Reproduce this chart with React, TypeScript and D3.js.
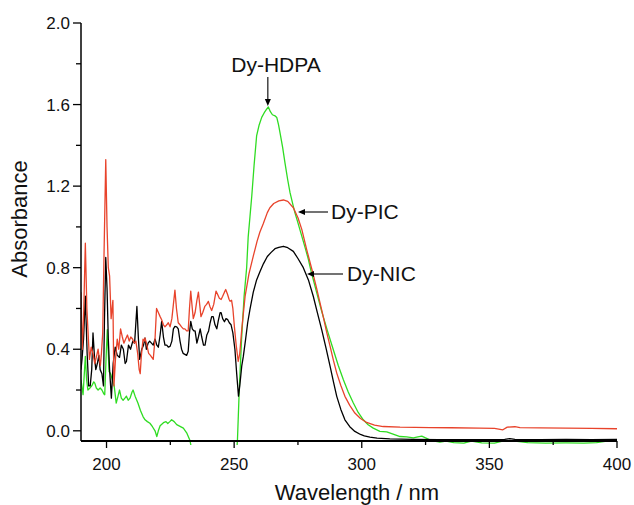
import React from "react";
import * as d3 from "d3";

// ---- Data ----
const xTicksMajor = [200, 250, 300, 350, 400];
const xTicksMinor = [225, 275, 325, 375];
const yTicksMajor = [0.0, 0.4, 0.8, 1.2, 1.6, 2.0];
const yTicksMinor = [0.2, 0.6, 1.0, 1.4, 1.8];

// Dy-NIC (black)
const nicData: [number, number][] = [
  [190.0, 0.3], [190.4, 0.35], [191.0, 0.45], [191.7, 0.66], [192.4, 0.38], [193.0, 0.22], [193.6, 0.22],
  [194.2, 0.3], [194.7, 0.48], [195.3, 0.36], [195.8, 0.3], [196.4, 0.33], [197.0, 0.37], [197.5, 0.3],
  [198.2, 0.28], [198.8, 0.22], [199.2, 0.55], [199.7, 0.85], [200.2, 0.7], [200.7, 0.45], [201.2, 0.3],
  [201.9, 0.16], [202.6, 0.33], [203.4, 0.41], [204.2, 0.37], [205.1, 0.36], [205.8, 0.42], [206.6, 0.4],
  [207.3, 0.33], [207.8, 0.34], [208.6, 0.42], [209.4, 0.4], [210.3, 0.44], [211.0, 0.43], [211.9, 0.61],
  [212.5, 0.45], [213.0, 0.35], [213.8, 0.4], [214.5, 0.42], [215.1, 0.455], [215.6, 0.4], [216.3, 0.43],
  [216.9, 0.44], [217.6, 0.43], [218.3, 0.42], [219.0, 0.45], [219.7, 0.42], [220.3, 0.41], [221.0, 0.47],
  [221.6, 0.537], [222.3, 0.46], [222.9, 0.42], [223.6, 0.42], [224.2, 0.41], [224.9, 0.414], [225.6, 0.44],
  [226.2, 0.5], [226.8, 0.512], [227.5, 0.51], [228.1, 0.5], [228.8, 0.44], [229.4, 0.4], [230.0, 0.38],
  [230.7, 0.375], [231.4, 0.37], [232.0, 0.39], [232.5, 0.48], [233.0, 0.537], [233.6, 0.5], [234.2, 0.49],
  [234.7, 0.49], [235.4, 0.43], [236.0, 0.46], [236.7, 0.5], [237.3, 0.46], [238.0, 0.42], [238.6, 0.42],
  [239.3, 0.47], [240.0, 0.49], [240.6, 0.53], [241.2, 0.56], [241.8, 0.56], [242.5, 0.52], [243.2, 0.5],
  [243.8, 0.54], [244.5, 0.58], [244.9, 0.58], [245.5, 0.55], [246.2, 0.535], [246.8, 0.55], [247.5, 0.545],
  [248.1, 0.53], [248.8, 0.52], [249.5, 0.48], [250.3, 0.4], [251.0, 0.28], [251.7, 0.17], [252.2, 0.22],
  [253.0, 0.32], [253.6, 0.365], [254.5, 0.45], [255.3, 0.53], [256.2, 0.595], [257.5, 0.68], [258.8, 0.74],
  [260.1, 0.78], [261.5, 0.82], [263.0, 0.855], [264.5, 0.875], [266.0, 0.893], [267.5, 0.9], [269.3, 0.905],
  [271.0, 0.898], [273.2, 0.88], [275.0, 0.845], [277.1, 0.8], [279.1, 0.74], [281.0, 0.66], [282.6, 0.58],
  [284.3, 0.496], [286.0, 0.405], [287.6, 0.316], [289.0, 0.235], [290.2, 0.169], [291.8, 0.105],
  [293.4, 0.054], [295.3, 0.02], [297.3, -0.003], [299.5, -0.018], [301.0, -0.025], [303.2, -0.031],
  [306.0, -0.036], [311.0, -0.04], [320.0, -0.042], [330.0, -0.043], [340.0, -0.043], [350.0, -0.043],
  [356.0, -0.042], [358.0, -0.038], [360.0, -0.042], [370.0, -0.043], [380.0, -0.042], [390.0, -0.043],
  [400.0, -0.042],
];

// Dy-PIC (red)
const picData: [number, number][] = [
  [190.0, 0.68], [190.5, 0.4], [191.0, 0.55], [191.7, 0.92], [192.3, 0.6], [192.7, 0.5], [193.3, 0.35],
  [194.0, 0.41], [194.7, 0.38], [195.4, 0.33], [196.0, 0.36], [196.7, 0.4], [197.2, 0.35], [197.6, 0.32],
  [198.0, 0.38], [198.5, 0.48], [199.0, 0.85], [199.7, 1.33], [200.2, 1.0], [200.7, 0.8], [201.2, 0.76],
  [201.8, 0.55], [202.5, 0.64], [202.9, 0.22], [203.5, 0.35], [204.2, 0.45], [204.8, 0.4], [205.5, 0.5],
  [206.2, 0.46], [206.8, 0.43], [207.5, 0.45], [208.2, 0.47], [208.9, 0.44], [209.5, 0.46], [210.2, 0.45],
  [210.8, 0.43], [211.5, 0.44], [212.2, 0.38], [212.8, 0.3], [213.2, 0.28], [213.6, 0.36], [214.3, 0.45],
  [214.8, 0.44], [215.1, 0.455], [215.8, 0.42], [216.5, 0.38], [217.2, 0.37], [218.3, 0.35], [219.0, 0.45],
  [219.6, 0.6], [220.3, 0.58], [221.0, 0.56], [221.6, 0.545], [222.3, 0.52], [222.9, 0.51], [223.6, 0.52],
  [224.2, 0.53], [224.9, 0.51], [225.6, 0.55], [226.2, 0.62], [226.8, 0.69], [227.4, 0.6], [228.1, 0.53],
  [228.8, 0.52], [229.4, 0.51], [230.1, 0.5], [230.7, 0.5], [231.4, 0.49], [232.0, 0.49], [232.5, 0.6],
  [233.0, 0.685], [233.6, 0.6], [234.0, 0.55], [234.7, 0.58], [235.4, 0.64], [236.0, 0.68], [236.5, 0.62],
  [237.0, 0.56], [237.7, 0.58], [238.5, 0.61], [239.2, 0.62], [239.9, 0.635], [240.5, 0.61], [241.2, 0.59],
  [242.0, 0.62], [242.9, 0.685], [243.5, 0.67], [244.2, 0.65], [244.9, 0.644], [245.5, 0.66], [246.2, 0.68],
  [246.7, 0.693], [247.4, 0.67], [248.0, 0.645], [248.4, 0.635], [249.0, 0.64], [249.5, 0.6], [250.1, 0.51],
  [250.8, 0.42], [251.6, 0.34], [252.2, 0.38], [253.0, 0.5], [254.3, 0.66], [255.8, 0.77], [257.5, 0.857],
  [259.0, 0.93], [260.1, 0.975], [261.4, 1.015], [263.0, 1.07], [264.0, 1.094], [265.5, 1.115],
  [267.5, 1.128], [269.3, 1.132], [271.0, 1.125], [273.2, 1.094], [275.0, 1.045], [276.5, 0.988],
  [278.4, 0.89], [279.1, 0.857], [280.7, 0.78], [282.3, 0.7], [283.6, 0.63], [284.9, 0.56], [286.2, 0.486],
  [287.6, 0.414], [288.9, 0.345], [290.2, 0.283], [291.8, 0.222], [293.4, 0.169], [295.3, 0.125],
  [297.3, 0.087], [299.5, 0.06], [301.9, 0.041], [305.0, 0.028], [308.4, 0.021], [315.0, 0.018],
  [326.7, 0.016], [335.0, 0.015], [346.0, 0.013], [352.0, 0.012], [355.3, 0.005], [357.0, 0.018],
  [360.0, 0.02], [362.0, 0.016], [370.0, 0.014], [380.0, 0.013], [390.0, 0.012], [400.0, 0.01],
];

// Dy-HDPA (green)
const hdpaData: [number, number][] = [
  [190.0, 0.25], [190.8, 0.177], [191.7, 0.365], [192.2, 0.25], [192.7, 0.2], [193.5, 0.21], [194.2, 0.22],
  [195.0, 0.24], [195.4, 0.234], [196.0, 0.21], [196.7, 0.2], [197.5, 0.21], [198.2, 0.2], [199.0, 0.18],
  [199.3, 0.177], [199.8, 0.35], [200.3, 0.496], [200.7, 0.38], [201.0, 0.29], [201.6, 0.28], [202.3, 0.25],
  [203.0, 0.22], [203.8, 0.136], [204.5, 0.17], [205.1, 0.2], [205.8, 0.16], [206.5, 0.15], [207.2, 0.16],
  [207.8, 0.17], [208.5, 0.15], [209.2, 0.16], [210.0, 0.19], [210.4, 0.2], [211.2, 0.17], [212.3, 0.136],
  [213.3, 0.1], [214.3, 0.07], [215.1, 0.054], [216.0, 0.045], [217.0, 0.037], [218.0, 0.02], [219.0, 0.0],
  [219.7, -0.028], [220.3, 0.0], [221.0, 0.025], [222.3, 0.04], [223.3, 0.045], [224.0, 0.036],
  [224.8, 0.045], [225.5, 0.054], [226.5, 0.045], [227.5, 0.03], [228.8, 0.022], [230.1, 0.013],
  [231.4, -0.01], [232.7, -0.048], [233.5, -0.1], [251.0, -0.1], [251.3, -0.045], [252.0, 0.2],
  [252.9, 0.447], [253.9, 0.66], [254.9, 0.8], [255.5, 0.95], [256.2, 1.05], [256.9, 1.15], [257.8, 1.3],
  [258.8, 1.446], [259.8, 1.5], [260.8, 1.537], [261.8, 1.56], [262.6, 1.575], [263.4, 1.588],
  [264.2, 1.565], [265.0, 1.55], [266.0, 1.545], [266.7, 1.537], [267.4, 1.5], [268.0, 1.46], [269.0, 1.39],
  [269.9, 1.315], [271.0, 1.23], [271.9, 1.168], [273.0, 1.11], [273.8, 1.07], [275.0, 1.02],
  [276.5, 0.955], [278.0, 0.89], [279.1, 0.84], [280.2, 0.78], [281.0, 0.742], [282.5, 0.67], [284.0, 0.6],
  [284.9, 0.56], [286.8, 0.48], [288.8, 0.4], [290.8, 0.32], [292.8, 0.25], [294.7, 0.19], [296.7, 0.136],
  [298.6, 0.09], [300.6, 0.054], [302.5, 0.03], [304.5, 0.013], [307.1, -0.003], [309.8, -0.005],
  [312.0, -0.015], [315.0, -0.028], [317.6, -0.03], [320.2, -0.035], [322.0, -0.03], [323.5, -0.026],
  [325.0, -0.035], [326.7, -0.044], [328.5, -0.05], [330.6, -0.056], [333.0, -0.05], [336.0, -0.058],
  [340.0, -0.06], [343.0, -0.05], [347.0, -0.059], [352.0, -0.06], [356.0, -0.048], [360.0, -0.05],
  [365.0, -0.058], [372.0, -0.06], [380.0, -0.059], [387.0, -0.06], [392.0, -0.058], [396.0, -0.05],
  [400.0, -0.048],
];

const seriesNames = ["Dy-NIC", "Dy-PIC", "Dy-HDPA"];
const seriesColors = ["#000000", "#e8432b", "#2fdc22"];

const W = 634;
const H = 505;
const left = 81;
const right = 617;
const top = 23;
const bottom = 441;

export default function App() {
  const x = d3.scaleLinear().domain([190, 400]).range([left, right]);
  const y = d3.scaleLinear().domain([-0.05, 2.0]).range([bottom, top]);
  const line = d3
    .line<[number, number]>()
    .x((d) => x(d[0]))
    .y((d) => y(d[1]));

  const font = "'Liberation Sans', Arial, Helvetica, sans-serif";
  const series = [nicData, picData, hdpaData];
  const drawOrder = [2, 0, 1];

  const arrowHead = (tx: number, ty: number, dir: "down" | "left") => {
    const L = 7;
    const Wd = 3;
    const pts =
      dir === "down"
        ? [[tx, ty], [tx - Wd, ty - L], [tx + Wd, ty - L]]
        : [[tx, ty], [tx + L, ty - Wd], [tx + L, ty + Wd]];
    return <polygon points={pts.map((p) => p.join(",")).join(" ")} fill="#000" />;
  };

  // annotation anchor positions derived from the peaks
  const hdpaPeak = hdpaData.reduce((a, b) => (b[1] > a[1] ? b : a));

  return (
    <svg
      width={W}
      height={H}
      style={{ position: "absolute", left: 0, top: 0, background: "#fff" }}
      fontFamily={font}
    >
      <defs>
        <clipPath id="plotClip">
          <rect x={left} y={0} width={right - left + 2} height={bottom + 4} />
        </clipPath>
      </defs>

      <g clipPath="url(#plotClip)">
        {drawOrder.map((i) => (
          <path
            key={seriesNames[i]}
            d={line(series[i]) || ""}
            fill="none"
            stroke={seriesColors[i]}
            strokeWidth={1.3}
            strokeLinejoin="round"
          />
        ))}
      </g>

      {/* axes */}
      <line x1={left} x2={left} y1={top} y2={bottom} stroke="#000" strokeWidth={1.5} />
      <line x1={left} x2={right} y1={bottom} y2={bottom} stroke="#000" strokeWidth={1.8} />

      {yTicksMajor.map((t) => (
        <g key={"ym" + t}>
          <line x1={left - 8} x2={left} y1={y(t)} y2={y(t)} stroke="#000" strokeWidth={1.3} />
          <text x={left - 11} y={y(t)} dy="0.36em" textAnchor="end" fontSize={17} fill="#111">
            {t.toFixed(1)}
          </text>
        </g>
      ))}
      {yTicksMinor.map((t) => (
        <line key={"yn" + t} x1={left - 5} x2={left} y1={y(t)} y2={y(t)} stroke="#000" strokeWidth={1.3} />
      ))}
      {xTicksMajor.map((t) => (
        <g key={"xm" + t}>
          <line x1={x(t)} x2={x(t)} y1={bottom} y2={bottom + 7} stroke="#000" strokeWidth={1.3} />
          <text x={x(t)} y={bottom + 29} textAnchor="middle" fontSize={17} fill="#111">
            {t}
          </text>
        </g>
      ))}
      {xTicksMinor.map((t) => (
        <line key={"xn" + t} x1={x(t)} x2={x(t)} y1={bottom} y2={bottom + 4} stroke="#000" strokeWidth={1.3} />
      ))}

      {/* axis titles */}
      <text x={357} y={500} textAnchor="middle" fontSize={22} fill="#111">
        Wavelength / nm
      </text>
      <text transform="translate(27,219) rotate(-90)" textAnchor="middle" fontSize={22} fill="#111">
        Absorbance
      </text>

      {/* annotations */}
      <text x={276} y={72} textAnchor="middle" fontSize={21} fill="#111">
        {seriesNames[2]}
      </text>
      <line x1={x(hdpaPeak[0]) - 0.5} x2={x(hdpaPeak[0]) - 0.5} y1={77} y2={y(hdpaPeak[1]) - 5} stroke="#000" strokeWidth={1.1} />
      {arrowHead(x(hdpaPeak[0]) - 0.5, y(hdpaPeak[1]) - 1, "down")}

      <line x1={302} x2={328} y1={212} y2={212} stroke="#000" strokeWidth={1.1} />
      {arrowHead(298, 212, "left")}
      <text x={331} y={218.5} fontSize={21} fill="#111">
        {seriesNames[1]}
      </text>

      <line x1={311} x2={343} y1={274} y2={274} stroke="#000" strokeWidth={1.1} />
      {arrowHead(307, 274, "left")}
      <text x={347} y={280.5} fontSize={21} fill="#111">
        {seriesNames[0]}
      </text>
    </svg>
  );
}
